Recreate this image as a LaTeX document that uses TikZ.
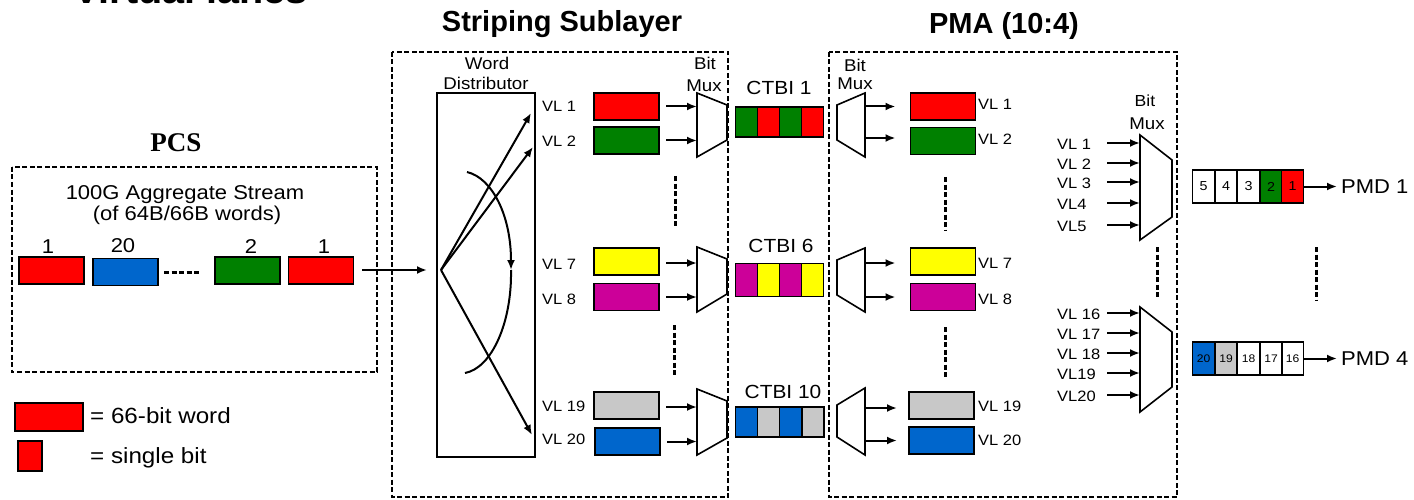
\documentclass[tikz,border=0pt]{standalone}
\usepackage{fontspec}
\setmainfont{Liberation Sans}[FakeStretch=1.1]
\newfontfamily\hdrfont{Liberation Sans}
\newfontfamily\pcsfont{Liberation Serif}
\usetikzlibrary{arrows.meta}
\newcommand\fsz[1]{\fontsize{#1}{#1}\selectfont}
\definecolor{cred}{RGB}{255,0,0}
\definecolor{cgreen}{RGB}{0,128,0}
\definecolor{cblue}{RGB}{0,102,204}
\definecolor{cyellow}{RGB}{255,255,0}
\definecolor{cmag}{RGB}{204,0,153}
\definecolor{cgray}{RGB}{200,200,200}
\tikzset{
  dbox/.style={draw, line width=1.4pt, dash pattern=on 5pt off 2.5pt},
  lane/.style={draw, line width=1.7pt, minimum width=65pt, minimum height=27pt, inner sep=0pt, outer sep=0pt},
  arr/.style={line width=2pt, -{Latex[length=10pt,width=8pt]}},
  muxs/.style={draw, line width=1.6pt, fill=white},
  lbl/.style={font=\fsz{15}, inner sep=0pt},
  txt/.style={inner sep=0pt},
  cell/.style={draw, line width=1.5pt, minimum width=22pt, minimum height=30pt, inner sep=0pt, outer sep=0pt},
  pcell/.style={draw, line width=1.5pt, minimum width=22.2pt, minimum height=33pt, inner sep=0pt, outer sep=0pt, font=\fsz{13}},
  vdots/.style={line width=3pt, dash pattern=on 5pt off 2.5pt},
}
\begin{document}
\begin{tikzpicture}[x=1pt,y=-1pt]
\useasboundingbox[fill=white] (0,0) rectangle (1414,500);
% clipped title at the top
\begin{scope}
\clip (0,0) rectangle (1414,500);
\node[txt, anchor=base west, font=\fsz{36}\bfseries] (title) at (73,4) {Virtual lanes};
\end{scope}

% ---------------- PCS ----------------
\node[txt, anchor=base, font=\pcsfont\bfseries\fsz{27}] (pcs) at (176,152) {PCS};
\draw[dbox] (12,167) rectangle (377,372);
\node[txt, anchor=base, font=\fsz{20}] (agg1) at (185,200) {100G Aggregate Stream};
\node[txt, anchor=base, font=\fsz{20}] (agg2) at (187,220) {(of 64B/66B words)};
\node[lane, fill=cred]   (w1) at (51.5,270.5) {};
\node[lane, fill=cblue]  (w20) at (125.5,272) {};
\node[lane, fill=cgreen] (w2) at (247.5,270.5) {};
\node[lane, fill=cred]   (w1b) at (321,270.5) {};
\node[txt, anchor=base, font=\fsz{20}] at (48,253) {1};
\node[txt, anchor=base, font=\fsz{20}] at (123,252) {20};
\node[txt, anchor=base, font=\fsz{20}] at (251,253) {2};
\node[txt, anchor=base, font=\fsz{20}] at (324,253) {1};
\draw[line width=3pt, dash pattern=on 5pt off 2.5pt] (164,272) -- (200,272);

% legend
\node[lane, fill=cred, minimum width=68pt, minimum height=28pt] (legw) at (49,417) {};
\node[lane, fill=cred, minimum width=24pt, minimum height=30pt] (legb) at (30,456) {};
\node[txt, anchor=base west, font=\fsz{22}] at (90,423) {= 66-bit word};
\node[txt, anchor=base west, font=\fsz{22}] at (90,463) {= single bit};

% ---------------- Striping sublayer ----------------
\node[txt, anchor=base, font=\hdrfont\bfseries\fsz{29}] (hstr) at (562,32) {Striping Sublayer};
\draw[dbox] (392,52) rectangle (728,497);
\node[draw, line width=1.7pt, minimum width=98pt, minimum height=364pt, inner sep=0pt] (wd) at (486,275) {};
\node[txt, anchor=base, font=\fsz{17}] at (487,70) {Word};
\node[txt, anchor=base, font=\fsz{17}] at (486,90) {Distributor};
\node[txt, anchor=base, font=\fsz{17}] at (705,70) {Bit};
\node[txt, anchor=base, font=\fsz{17}] at (704,92) {Mux};

\coordinate (pcsout) at (362,270);
\coordinate (wdin) at (427,270);
\draw[arr] (pcsout) -- (wdin);
\coordinate (fan) at (441,270);
\coordinate (f1) at (531,113);
\coordinate (f2) at (533,147);
\coordinate (f20) at (532,435);
\draw[arr] (fan) -- (f1);
\draw[arr] (fan) -- (f2);
\draw[arr] (fan) -- (f20);
\coordinate (a0) at (467,172);
\coordinate (a1) at (511,270);
\coordinate (a2) at (465,373);
\draw[arr] (a0) .. controls (492,178) and (511,215) .. (a1);
\draw[line width=2pt] (a1) .. controls (512,322) and (492,368) .. (a2);

% striping lanes
\node[lane, fill=cred]    (s1)  at (626.5,106.5) {};
\node[lane, fill=cgreen]  (s2)  at (626.5,140.5) {};
\node[lane, fill=cyellow] (s7)  at (626.5,261.5) {};
\node[lane, fill=cmag]    (s8)  at (626.5,297) {};
\node[lane, fill=cgray]   (s19) at (626.5,405.5) {};
\node[lane, fill=cblue]   (s20) at (627.5,441.5) {};
\node[lbl, anchor=west] at (542,106.5) {VL 1};
\node[lbl, anchor=west] at (542,141) {VL 2};
\node[lbl, anchor=west] at (542,264) {VL 7};
\node[lbl, anchor=west] at (542,299) {VL 8};
\node[lbl, anchor=west] at (542,406) {VL 19};
\node[lbl, anchor=west] at (542,439.5) {VL 20};
\draw[vdots] (675,176) -- (675,227);
\draw[vdots] (674,325) -- (674,376);

% striping muxes
\draw[muxs] (697,93) -- (727,105) -- (727,140) -- (697,157) -- cycle;
\draw[muxs] (697,247) -- (727,259) -- (727,294) -- (697,312) -- cycle;
\draw[muxs] (697,389) -- (727,401) -- (727,438) -- (697,455) -- cycle;
\coordinate (m1a) at (697,106.5);
\coordinate (m1b) at (697,140.5);
\coordinate (m2a) at (697,263);
\coordinate (m2b) at (697,297);
\coordinate (m3a) at (697,407);
\coordinate (m3b) at (697,441.5);
\draw[arr, shorten <=7pt] (s1.east) -- (m1a);
\draw[arr, shorten <=7pt] (s2.east) -- (m1b);
\draw[arr, shorten <=7pt] (s7.east |- m2a) -- (m2a);
\draw[arr, shorten <=7pt] (s8.east) -- (m2b);
\draw[arr, shorten <=7pt] (s19.east |- m3a) -- (m3a);
\draw[arr, shorten <=7pt] (s20.east) -- (m3b);

% ---------------- CTBI ----------------
\node[txt, anchor=base, font=\fsz{19}] at (779,95) {CTBI 1};
\node[txt, anchor=base, font=\fsz{19}] at (781,252) {CTBI 6};
\node[txt, anchor=base, font=\fsz{19}] at (783,398) {CTBI 10};
\node[cell, fill=cgreen] (c1a) at (746.5,122) {};
\node[cell, fill=cred]   (c1b) at (768.5,122) {};
\node[cell, fill=cgreen] (c1c) at (790.5,122) {};
\node[cell, fill=cred]   (c1d) at (812.5,122) {};
\node[cell, fill=cmag,   minimum height=33pt] (c6a) at (746.5,280) {};
\node[cell, fill=cyellow,minimum height=33pt] (c6b) at (768.5,280) {};
\node[cell, fill=cmag,   minimum height=33pt] (c6c) at (790.5,280) {};
\node[cell, fill=cyellow,minimum height=33pt] (c6d) at (812.5,280) {};
\node[cell, fill=cblue]  (c10a) at (746.5,422) {};
\node[cell, fill=cgray]  (c10b) at (768.5,422) {};
\node[cell, fill=cblue]  (c10c) at (790.5,422) {};
\node[cell, fill=cgray]  (c10d) at (813,422) {};

% ---------------- PMA ----------------
\node[txt, anchor=base, font=\hdrfont\bfseries\fsz{29}] (hpma) at (1004,34) {PMA (10:4)};
\draw[dbox] (829,52) rectangle (1177,497);
\node[txt, anchor=base, font=\fsz{17}] at (855,72) {Bit};
\node[txt, anchor=base, font=\fsz{17}] at (855,90) {Mux};

\draw[muxs] (837,105) -- (865,93) -- (865,157) -- (837,140) -- cycle;
\draw[muxs] (837,260) -- (865,248) -- (865,312) -- (837,295) -- cycle;
\draw[muxs] (837,405) -- (865,388) -- (865,455) -- (837,437) -- cycle;

\node[lane, fill=cred]    (p1)  at (943,106.5) {};
\node[lane, fill=cgreen]  (p2)  at (943,141) {};
\node[lane, fill=cyellow] (p7)  at (943,261.5) {};
\node[lane, fill=cmag]    (p8)  at (943,297) {};
\node[lane, fill=cgray]   (p19) at (941.5,405.5) {};
\node[lane, fill=cblue]   (p20) at (941.5,440.5) {};
\node[lbl, anchor=west] at (978,104) {VL 1};
\node[lbl, anchor=west] at (978,139) {VL 2};
\node[lbl, anchor=west] at (978,263) {VL 7};
\node[lbl, anchor=west] at (978,299) {VL 8};
\node[lbl, anchor=west] at (978,406) {VL 19};
\node[lbl, anchor=west] at (978,440) {VL 20};
\draw[vdots] (945,177) -- (945,230);
\draw[vdots] (945,327) -- (945,377);

\coordinate (d1a) at (865,106.5);
\coordinate (d1b) at (865,138);
\coordinate (d2a) at (865,263);
\coordinate (d2b) at (865,297);
\coordinate (d3a) at (865,408);
\coordinate (d3b) at (865,440.5);
\draw[arr, shorten >=15pt] (d1a) -- (p1.west |- d1a);
\draw[arr, shorten >=15pt] (d1b) -- (p2.west |- d1b);
\draw[arr, shorten >=15pt] (d2a) -- (p7.west |- d2a);
\draw[arr, shorten >=15pt] (d2b) -- (p8.west |- d2b);
\draw[arr, shorten >=12pt] (d3a) -- (p19.west |- d3a);
\draw[arr, shorten >=12pt] (d3b) -- (p20.west |- d3b);

% right bit muxes
\node[txt, anchor=base, font=\fsz{16}] at (1145,107) {Bit};
\node[txt, anchor=base, font=\fsz{17}] at (1147,130) {Mux};
\draw[muxs] (1140,135) -- (1172,160) -- (1172,217) -- (1140,240) -- cycle;
\draw[muxs] (1140,307) -- (1172,332) -- (1172,387) -- (1140,412) -- cycle;
\foreach \yy/\tt/\nm in {143/VL 1/r1, 163/VL 2/r2, 182/VL 3/r3, 203/VL4/r4, 225/VL5/r5,
                        313/VL 16/r16, 333/VL 17/r17, 353/VL 18/r18, 373/VL19/r19, 395/VL20/r20}{
  \node[lbl, anchor=west] (\nm l) at (1057,\yy+1) {\tt};
  \coordinate (\nm s) at (1107,\yy);
  \coordinate (\nm e) at (1140,\yy);
  \draw[arr] (\nm s) -- (\nm e);
}
\draw[vdots] (1157,247) -- (1157,298);

% PMD lanes
\node[pcell] (q5) at (1203.5,186.5) {5};
\node[pcell] (q4) at (1226,186.5) {4};
\node[pcell] (q3) at (1248.5,186.5) {3};
\node[pcell, fill=cgreen] (q2) at (1271,186.5) {2};
\node[pcell, fill=cred]   (q1) at (1292.5,186.5) {1};
\coordinate (pmd1) at (1337,186.5);
\draw[arr] (q1.east) -- (pmd1);
\node[txt, anchor=west, font=\fsz{20}] at (1341,187) {PMD 1};

\node[pcell, fill=cblue, font=\fsz{11}] (t20) at (1203.5,358.5) {20};
\node[pcell, fill=cgray, font=\fsz{11}] (t19) at (1226,358.5) {19};
\node[pcell, font=\fsz{11}] (t18) at (1248.5,358.5) {18};
\node[pcell, font=\fsz{11}] (t17) at (1271,358.5) {17};
\node[pcell, font=\fsz{11}] (t16) at (1292.5,358.5) {16};
\coordinate (pmd4) at (1337,358.5);
\draw[arr] (t16.east) -- (pmd4);
\node[txt, anchor=west, font=\fsz{20}] at (1341,359) {PMD 4};
\draw[vdots] (1316,247) -- (1316,300);
\end{tikzpicture}
\end{document}
